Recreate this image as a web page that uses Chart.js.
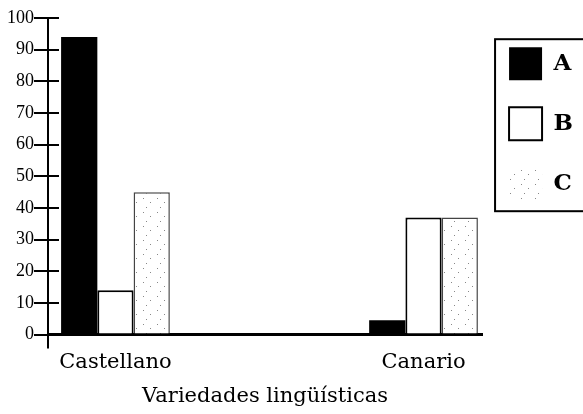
<!DOCTYPE html>
<html>
<head>
<meta charset="utf-8">
<script src="https://cdn.jsdelivr.net/npm/chart.js@4"></script>
<style>
  html, body { margin: 0; padding: 0; background: #fff; }
</style>
</head>
<body>
<canvas id="chart" width="583" height="414"></canvas>
<script>
const categories = ['Castellano', 'Canario'];
const seriesNames = ['A', 'B', 'C'];
const seriesA = [94, 4.5];
const seriesB = [14, 37];
const seriesC = [45, 37];
const yTickValues = [0, 10, 20, 30, 40, 50, 60, 70, 80, 90, 100];
const xTitle = 'Variedades lingüísticas';

// sparse stipple used for series C
function makeStipple() {
    const c = document.createElement('canvas');
    c.width = 14;
    c.height = 14;
    const g = c.getContext('2d');
    g.fillStyle = '#fff';
    g.fillRect(0, 0, 14, 14);
    g.fillStyle = '#888';
    g.fillRect(3, 2, 1, 1);
    g.fillRect(10, 6, 1, 1);
    g.fillRect(6, 11, 1, 1);
    return g.createPattern(c, 'repeat');
}

const ctx = document.getElementById('chart').getContext('2d');
const stipple = makeStipple();

const toPoints = values => values.map((v, i) => ({ x: i, y: v }));

const axisMarks = {
    id: 'axisMarks',
    afterDraw(chart) {
        const { ctx, chartArea, scales: { y } } = chart;
        ctx.save();
        ctx.strokeStyle = '#000';
        ctx.lineWidth = 2;
        ctx.beginPath();
        y.ticks.forEach(t => {
            const py = Math.round(y.getPixelForValue(t.value));
            ctx.moveTo(chartArea.left, py);
            ctx.lineTo(chartArea.left + 11, py);
        });
        ctx.moveTo(chartArea.left, chartArea.bottom);
        ctx.lineTo(chartArea.left, chartArea.bottom + 14);
        ctx.stroke();

        // frame round the legend
        const boxes = chart.legend.legendHitBoxes;
        if (boxes && boxes.length) {
            const first = boxes[0];
            const last = boxes[boxes.length - 1];
            const left = first.left - 14;
            const top = first.top - 8;
            const bottom = last.top + last.height + 11;
            ctx.lineWidth = 2;
            ctx.strokeRect(left, top, chart.width + 10 - left, bottom - top);
        }
        ctx.restore();
    }
};

new Chart(ctx, {
    type: 'bar',
    data: {
        datasets: [
            {
                label: seriesNames[0],
                data: toPoints(seriesA),
                backgroundColor: '#000',
                borderColor: '#000',
                borderWidth: 0
            },
            {
                label: seriesNames[1],
                data: toPoints(seriesB),
                backgroundColor: '#fff',
                borderColor: '#000',
                borderWidth: 2
            },
            {
                label: seriesNames[2],
                data: toPoints(seriesC),
                backgroundColor: stipple,
                borderColor: '#444',
                borderWidth: 1.5
            }
        ]
    },
    options: {
        responsive: false,
        animation: false,
        categoryPercentage: 0.353,
        barPercentage: 1,
        layout: {
            padding: { top: 18, left: 7, right: 0, bottom: 5 }
        },
        font: { family: 'DejaVu Serif' },
        scales: {
            x: {
                type: 'linear',
                offset: false,
                min: -0.219,
                max: 1.19,
                afterBuildTicks: scale => {
                    scale.ticks = categories.map((c, i) => ({ value: i }));
                },
                ticks: {
                    callback: value => categories[value],
                    color: '#000',
                    padding: 15,
                    maxRotation: 0,
                    font: { family: 'DejaVu Serif', size: 21 }
                },
                grid: { drawOnChartArea: false, drawTicks: false, offset: false },
                border: { color: '#000', width: 3 },
                title: {
                    display: true,
                    text: xTitle,
                    color: '#000',
                    padding: { top: -6, bottom: 0 },
                    font: { family: 'DejaVu Serif', size: 21 }
                }
            },
            y: {
                min: 0,
                max: 100,
                afterBuildTicks: scale => {
                    scale.ticks = yTickValues.map(v => ({ value: v }));
                },
                ticks: {
                    color: '#000',
                    padding: 0,
                    font: { family: 'Liberation Serif', size: 18 }
                },
                grid: {
                    drawOnChartArea: false,
                    drawTicks: true,
                    tickLength: 14,
                    color: '#000',
                    lineWidth: 2
                },
                border: { color: '#000', width: 2 }
            }
        },
        plugins: {
            tooltip: { enabled: false },
            legend: {
                position: 'right',
                align: 'start',
                fullSize: false,
                maxWidth: 103,
                title: {
                    display: true,
                    text: '',
                    padding: { top: 1, bottom: 0 },
                    font: { size: 1 }
                },
                labels: {
                    boxWidth: 33,
                    boxHeight: 33,
                    padding: 27,
                    color: '#000',
                    font: { family: 'DejaVu Serif', size: 23, weight: 'bold' },
                    generateLabels: chart => {
                        const items = Chart.defaults.plugins.legend.labels.generateLabels(chart);
                        items[2].lineWidth = 0;
                        return items;
                    }
                }
            }
        }
    },
    plugins: [axisMarks]
});
</script>
</body>
</html>
